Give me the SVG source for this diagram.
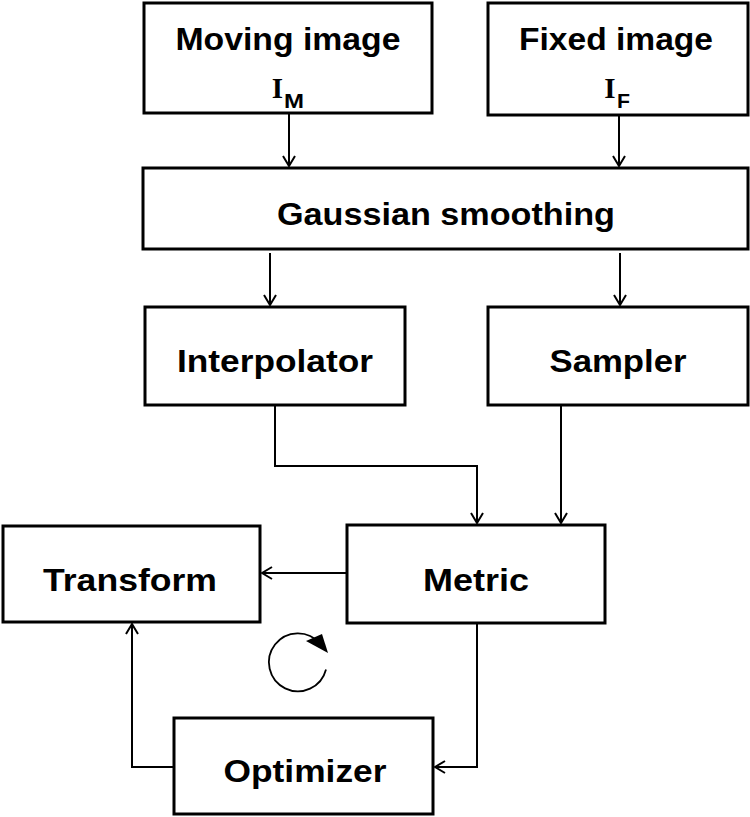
<svg xmlns="http://www.w3.org/2000/svg" width="750" height="817" viewBox="0 0 750 817">
<defs>
<style>
.box{fill:#fff;stroke:#000;stroke-width:3}
.lbl{font-family:"Liberation Sans",Arial,sans-serif;font-weight:bold;font-size:31px;fill:#000;text-anchor:middle}
.ii{font-family:"Liberation Serif","Times New Roman",serif;font-weight:bold;font-size:29px;fill:#000;text-anchor:middle}
.sub{font-family:"Liberation Sans",Arial,sans-serif;font-weight:bold;font-size:20px;fill:#000}
.con{fill:none;stroke:#000;stroke-width:2}
</style>
<marker id="arr" viewBox="0 0 12 14" refX="11" refY="7" markerWidth="12" markerHeight="14" markerUnits="userSpaceOnUse" orient="auto-start-reverse">
<path d="M1,1 L11,7 L1,13" fill="none" stroke="#000" stroke-width="2"/>
</marker>
</defs>
<rect width="750" height="817" fill="#fff"/>
<g id="connectors">
<path class="con" d="M289,114 V166" marker-end="url(#arr)"/>
<path class="con" d="M619,116 V166" marker-end="url(#arr)"/>
<path class="con" d="M270,253 V305" marker-end="url(#arr)"/>
<path class="con" d="M620,253 V305" marker-end="url(#arr)"/>
<path class="con" d="M275,405 V466 H477 V523" marker-end="url(#arr)"/>
<path class="con" d="M561,405 V523" marker-end="url(#arr)"/>
<path class="con" d="M347,573 H262" marker-end="url(#arr)"/>
<path class="con" d="M477,623 V767 H435" marker-end="url(#arr)"/>
<path class="con" d="M174,767 H132 V624" marker-end="url(#arr)"/>
</g>
<g id="cycle">
<path d="M326,669.5 A29,29 0 1 1 320,643.5" fill="none" stroke="#000" stroke-width="1.8"/>
<polygon points="306,641 322,634 328,653" fill="#000"/>
</g>
<g id="moving">
<rect class="box" x="144" y="3" width="288" height="110"/>
<text class="lbl" x="288" y="50" textLength="225" lengthAdjust="spacingAndGlyphs">Moving image</text>
<text class="ii" x="277.5" y="98">I</text>
<text class="sub" x="284" y="108" textLength="20" lengthAdjust="spacingAndGlyphs">M</text>
</g>
<g id="fixed">
<rect class="box" x="488" y="3" width="260" height="112"/>
<text class="lbl" x="616" y="50" textLength="194" lengthAdjust="spacingAndGlyphs">Fixed image</text>
<text class="ii" x="610" y="98">I</text>
<text class="sub" x="617" y="108" textLength="13" lengthAdjust="spacingAndGlyphs">F</text>
</g>
<g id="gaussian">
<rect class="box" x="143" y="168" width="605" height="81"/>
<text class="lbl" x="446" y="225" textLength="338" lengthAdjust="spacingAndGlyphs">Gaussian smoothing</text>
</g>
<g id="interpolator">
<rect class="box" x="145" y="307" width="260" height="98"/>
<text class="lbl" x="275" y="372" textLength="196" lengthAdjust="spacingAndGlyphs">Interpolator</text>
</g>
<g id="sampler">
<rect class="box" x="488" y="307" width="260" height="98"/>
<text class="lbl" x="618" y="372" textLength="137" lengthAdjust="spacingAndGlyphs">Sampler</text>
</g>
<g id="metric">
<rect class="box" x="347" y="525" width="258" height="98"/>
<text class="lbl" x="476" y="591" textLength="106" lengthAdjust="spacingAndGlyphs">Metric</text>
</g>
<g id="transform">
<rect class="box" x="3" y="526" width="257" height="96"/>
<text class="lbl" x="130" y="591" textLength="174" lengthAdjust="spacingAndGlyphs">Transform</text>
</g>
<g id="optimizer">
<rect class="box" x="174" y="718" width="259" height="96"/>
<text class="lbl" x="305" y="782" textLength="163" lengthAdjust="spacingAndGlyphs">Optimizer</text>
</g>
</svg>
